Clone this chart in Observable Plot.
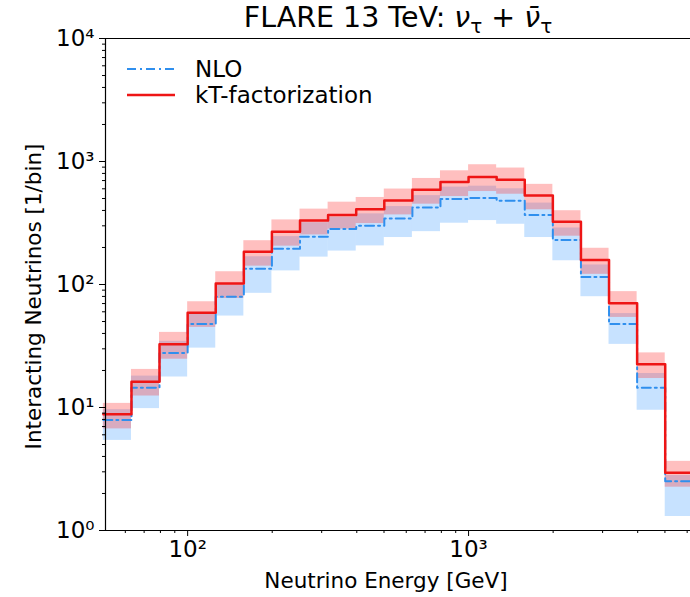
<!DOCTYPE html>
<html><head><meta charset="utf-8">
<script src="https://cdn.jsdelivr.net/npm/d3@7"></script>
<script src="https://cdn.jsdelivr.net/npm/@observablehq/plot@0.6"></script>
<style>
body{margin:0;background:#fff;font-family:"DejaVu Sans",sans-serif;}
#wrap{position:relative;width:690px;height:597px;overflow:hidden;background:#fff;}
#title{position:absolute;top:0px;left:398px;transform:translateX(-50%);font-size:28.5px;white-space:nowrap;color:#000;line-height:35px;}
#title sub{font-size:20px;vertical-align:-6px;line-height:0;}
#legend{position:absolute;left:126px;top:56px;font-size:23px;color:#000;}
#legend div{display:flex;align-items:center;height:26px;line-height:26px;}
#legend svg{margin-right:19px;}
</style></head><body>
<div id="wrap">
<div id="chart"></div>
<div id="title">FLARE 13 TeV: <i>ν</i><sub>τ</sub> + <i>ν̄</i><sub>τ</sub></div>
<div id="legend"></div>
</div>
<script>
// bin edges (GeV), log-spaced 10^1.7 ... 10^3.8
const edges = [50.1, 63.1, 79.4, 100, 125.9, 158.5, 199.5, 251.2, 316.2, 398.1, 501.2, 631.0, 794.3, 1000, 1258.9, 1584.9, 1995.3, 2511.9, 3162.3, 3981.1, 5011.9, 6309.6];
// kT-factorization central, upper, lower
const kt    = [8.8, 16.2, 32.7, 58.9, 102, 185, 269, 331, 368, 410, 482, 589, 680, 747, 710, 530, 323, 158, 70.3, 22.5, 2.95];
const ktHi  = [10.8, 20.4, 40.8, 72.4, 127, 227, 335, 410, 467, 510, 597, 728, 840, 941, 885, 652, 398, 197, 87.5, 27.8, 3.65];
const ktLo  = [6.7, 12.4, 24.7, 44.8, 77, 141, 205, 253, 282, 313, 368, 450, 519, 570, 542, 405, 247, 121, 54, 17.2, 2.25];
// NLO central, upper, lower
const nlo   = [7.9, 14.5, 27.8, 47.7, 79.6, 134, 195, 245, 282, 300, 344, 422, 495, 504, 479, 367, 230, 115, 47.7, 14.5, 2.51];
const nloHi = [9.6, 18.0, 34.5, 59, 99, 168, 245, 318, 352, 375, 430, 528, 619, 630, 600, 459, 288, 144, 58, 18.9, 2.8];
const nloLo = [5.4, 9.8, 17.7, 30.4, 55.4, 84.8, 129, 167, 187, 206, 241, 269, 315, 331, 309, 241, 156, 79.6, 32.6, 9.5, 1.30];

const xMajor = [100, 1000];
const xMinor = [60, 70, 80, 90, 200, 300, 400, 500, 600, 700, 800, 900, 2000, 3000, 4000, 5000, 6000];
const yMajor = [1, 10, 100, 1000, 10000];
const yMinor = [2,3,4,5,6,7,8,9,20,30,40,50,60,70,80,90,200,300,400,500,600,700,800,900,2000,3000,4000,5000,6000,7000,8000,9000];

const labels = {nlo: "NLO", kt: "kT-factorization", x: "Neutrino Energy [GeV]", y: "Interacting Neutrinos [1/bin]"};
const colors = {nloLine: "#2f8fee", nloFill: "#1e8cff", ktLine: "#ee1515", ktFill: "#ff2a2a"};

const supMap = {"0":"⁰","1":"¹","2":"²","3":"³","4":"⁴","5":"⁵","6":"⁶","7":"⁷","8":"⁸","9":"⁹"};
const pow = d => "10" + String(Math.round(Math.log10(d))).split("").map(c => supMap[c]).join("");

const rows = kt.map((v, i) => ({x1: edges[i], x2: edges[i+1], kt: v, ktHi: ktHi[i], ktLo: ktLo[i], nlo: nlo[i], nloHi: nloHi[i], nloLo: nloLo[i]}));
const stepKt = [...rows.map(r => ({x: r.x1, y: r.kt})), {x: edges[edges.length-1], y: kt[kt.length-1]}];
const stepNlo = [...rows.map(r => ({x: r.x1, y: r.nlo})), {x: edges[edges.length-1], y: nlo[nlo.length-1]}];

const xMin = 51, xMax = 6166;

const chart = Plot.plot({
  width: 690, height: 597,
  marginLeft: 105, marginRight: 0, marginTop: 38, marginBottom: 67,
  x: {type: "log", domain: [xMin, xMax]},
  y: {type: "log", domain: [1, 1e4]},
  style: {fontFamily: "DejaVu Sans, sans-serif", fontSize: "22px", color: "#000", background: "#fff", overflow: "hidden"},
  marks: [
    Plot.rect(rows, {x1: "x1", x2: "x2", y1: "nloLo", y2: "nloHi", fill: colors.nloFill, fillOpacity: 0.25}),
    Plot.rect(rows, {x1: "x1", x2: "x2", y1: "ktLo", y2: "ktHi", fill: colors.ktFill, fillOpacity: 0.3}),
    Plot.line(stepNlo, {x: "x", y: "y", curve: "step-after", stroke: colors.nloLine, strokeWidth: 2, strokeDasharray: "9,4,2,4"}),
    Plot.line(stepKt, {x: "x", y: "y", curve: "step-after", stroke: colors.ktLine, strokeWidth: 2.5}),
    Plot.axisX(xMinor, {tickSize: 3, tickFormat: () => "", label: null}),
    Plot.axisX(xMajor, {tickSize: 6, tickPadding: 4, tickFormat: pow, fontSize: 23, label: null}),
    Plot.text([labels.x], {frameAnchor: "bottom", textAnchor: "middle", lineAnchor: "bottom", dx: -12, dy: 57, fontSize: 21.5}),
    Plot.axisY(yMinor, {tickSize: 3, tickFormat: () => "", label: null}),
    Plot.axisY(yMajor, {tickSize: 6, tickPadding: 5, tickFormat: pow, fontSize: 23, label: null}),
    Plot.text([labels.y], {frameAnchor: "left", textAnchor: "middle", rotate: -90, dx: -80, dy: 12, lineAnchor: "top", fontSize: 21.5}),
    Plot.ruleY([1e4], {stroke: "#000", strokeWidth: 1.2}),
    Plot.ruleY([1], {stroke: "#000", strokeWidth: 1.2}),
    Plot.ruleX([xMin], {stroke: "#000", strokeWidth: 1.2})
  ]
});
document.getElementById("chart").appendChild(chart);

// legend
const leg = document.getElementById("legend");
leg.innerHTML =
  `<div><svg width="50" height="20"><line x1="1" y1="10" x2="49" y2="10" stroke="${colors.nloLine}" stroke-width="2" stroke-dasharray="9,4,2,4"/></svg><span>${labels.nlo}</span></div>` +
  `<div><svg width="50" height="20"><line x1="1" y1="10" x2="49" y2="10" stroke="${colors.ktLine}" stroke-width="2.5"/></svg><span>${labels.kt}</span></div>`;
</script>
</body></html>
